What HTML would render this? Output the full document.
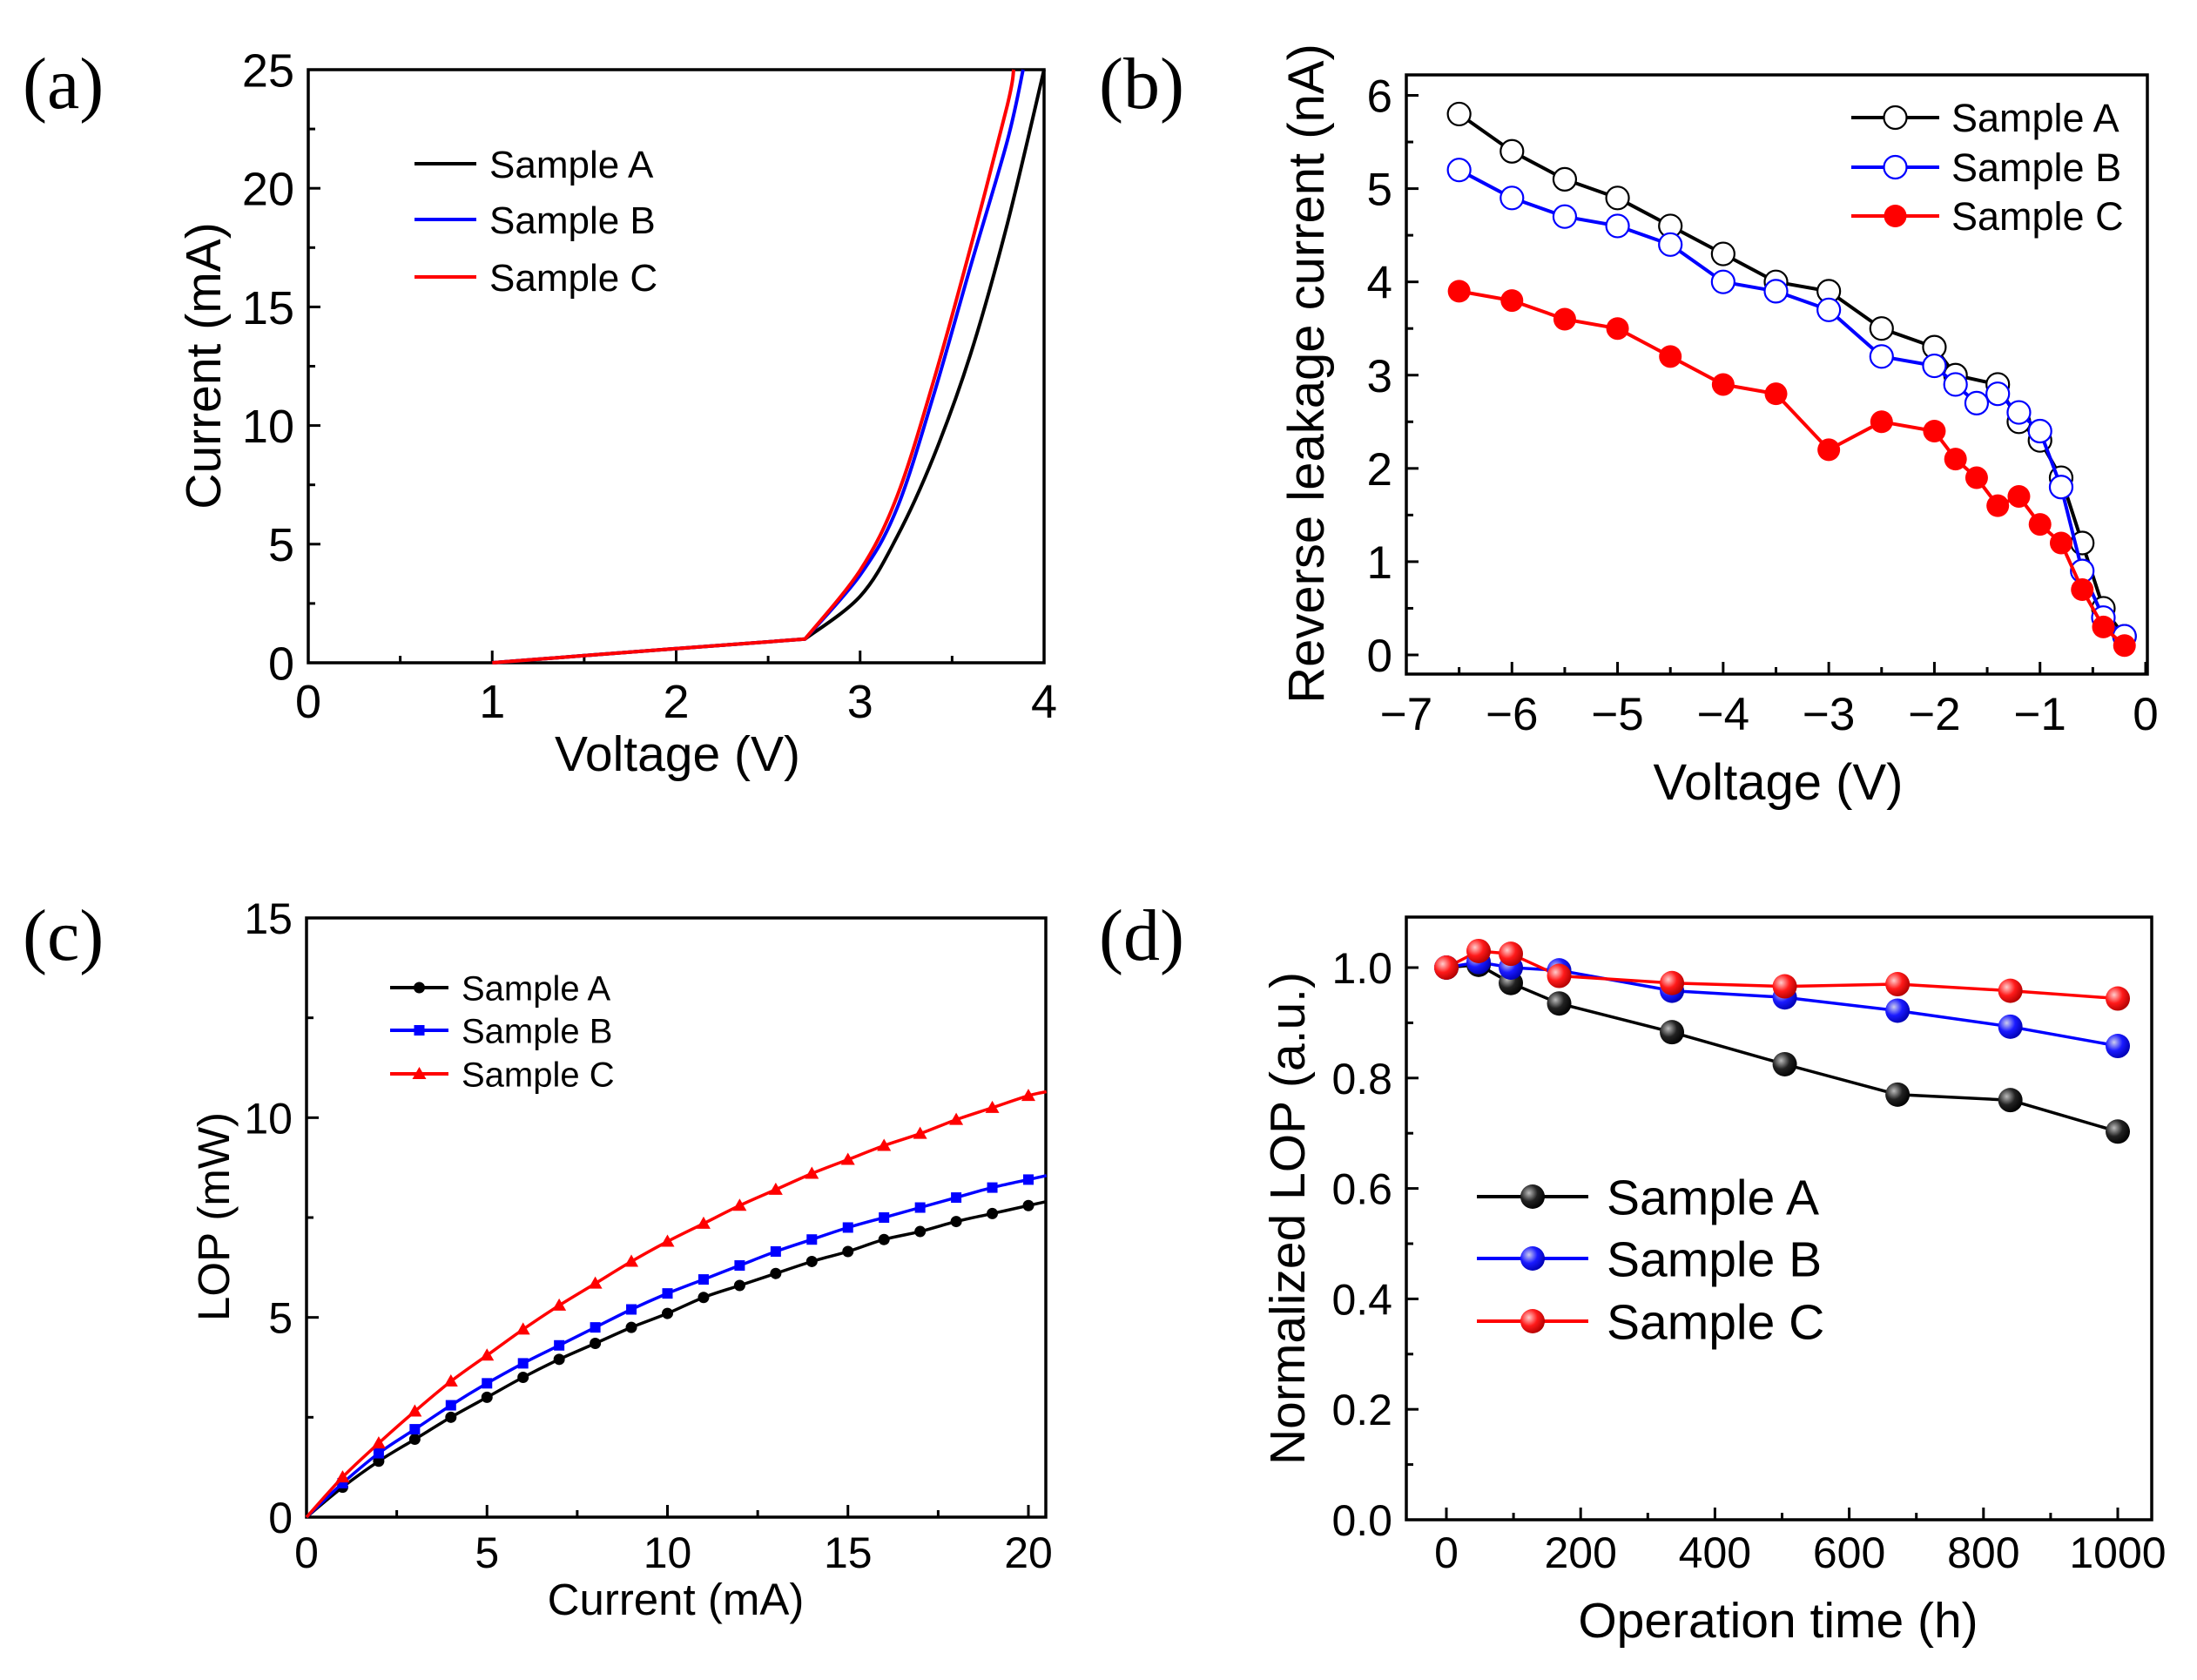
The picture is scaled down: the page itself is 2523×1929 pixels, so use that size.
<!DOCTYPE html>
<html><head><meta charset="utf-8"><style>
html,body{margin:0;padding:0;background:#fff}
svg{display:block;font-family:"Liberation Sans",Arial,sans-serif}
</style></head><body>
<svg id="fig" width="2523" height="1929" viewBox="0 0 2523 1929" xmlns="http://www.w3.org/2000/svg">
<defs>
<radialGradient id="gA" cx="0.35" cy="0.35" r="0.7"><stop offset="0" stop-color="#bbb"/><stop offset="0.5" stop-color="#222"/><stop offset="1" stop-color="#000"/></radialGradient>
<radialGradient id="gB" cx="0.35" cy="0.35" r="0.7"><stop offset="0" stop-color="#cce"/><stop offset="0.5" stop-color="#1a1aff"/><stop offset="1" stop-color="#0000b0"/></radialGradient>
<radialGradient id="gC" cx="0.35" cy="0.35" r="0.7"><stop offset="0" stop-color="#fcc"/><stop offset="0.5" stop-color="#ff1a1a"/><stop offset="1" stop-color="#b00000"/></radialGradient>
</defs>
</svg>
<script>
// ---- Panel (a) data: I-V ----
const aVoltA = [1.0,1.5,2.0,2.7,3.0,3.2,3.4,3.6,3.8,4.0];
const aCurA  = [0,0.3,0.6,1.0,2.8,5.3,8.7,13,18.5,25];
const aVoltB = [1.0,1.5,2.0,2.7,3.0,3.2,3.4,3.6,3.8,3.886];
const aCurB  = [0,0.3,0.6,1.0,3.7,6.5,11.3,16.7,22,25];
const aVoltC = [1.0,1.5,2.0,2.7,3.0,3.2,3.4,3.6,3.8,3.835];
const aCurC  = [0,0.3,0.6,1.0,3.9,7.0,11.9,17.5,23.5,25];
const aXTicks = [0,1,2,3,4];
const aYTicks = [0,5,10,15,20,25];
// ---- Panel (b) data: reverse leakage ----
const bVoltA = [-6.5,-6,-5.5,-5,-4.5,-4,-3.5,-3,-2.5,-2,-1.8,-1.4,-1.2,-1.0,-0.8,-0.6,-0.4,-0.2];
const bLeakA = [5.8,5.4,5.1,4.9,4.6,4.3,4.0,3.9,3.5,3.3,3.0,2.9,2.5,2.3,1.9,1.2,0.5,0.2];
const bVoltB = [-6.5,-6,-5.5,-5,-4.5,-4,-3.5,-3,-2.5,-2,-1.8,-1.6,-1.4,-1.2,-1.0,-0.8,-0.6,-0.4,-0.2];
const bLeakB = [5.2,4.9,4.7,4.6,4.4,4.0,3.9,3.7,3.2,3.1,2.9,2.7,2.8,2.6,2.4,1.8,0.9,0.4,0.2];
const bVoltC = [-6.5,-6,-5.5,-5,-4.5,-4,-3.5,-3,-2.5,-2,-1.8,-1.6,-1.4,-1.2,-1.0,-0.8,-0.6,-0.4,-0.2];
const bLeakC = [3.9,3.8,3.6,3.5,3.2,2.9,2.8,2.2,2.5,2.4,2.1,1.9,1.6,1.7,1.4,1.2,0.7,0.3,0.1];
const bXTicks = [-7,-6,-5,-4,-3,-2,-1,0];
const bYTicks = [0,1,2,3,4,5,6];
// ---- Panel (c) data: LOP vs current ----
const cCurrent = [0,1,2,3,4,5,6,7,8,9,10,11,12,13,14,15,16,17,18,19,20,20.5];
const cLopA = [0,0.75,1.4,1.95,2.5,3.0,3.5,3.95,4.35,4.75,5.1,5.5,5.8,6.1,6.4,6.65,6.95,7.15,7.4,7.6,7.8,7.9];
const cLopB = [0,0.85,1.6,2.2,2.8,3.35,3.85,4.3,4.75,5.2,5.6,5.95,6.3,6.65,6.95,7.25,7.5,7.75,8.0,8.25,8.45,8.55];
const cLopC = [0,1.0,1.85,2.65,3.4,4.05,4.7,5.3,5.85,6.4,6.9,7.35,7.8,8.2,8.6,8.95,9.3,9.6,9.95,10.25,10.55,10.65];
const cXTicks = [0,5,10,15,20];
const cYTicks = [0,5,10,15];
// ---- Panel (d) data: normalized LOP vs time ----
const dTime = [0,48,96,168,336,504,672,840,1000];
const dLopA = [1.0,1.005,0.972,0.935,0.883,0.825,0.77,0.76,0.703];
const dLopB = [1.0,1.01,1.0,0.995,0.958,0.946,0.922,0.893,0.858];
const dLopC = [1.0,1.03,1.025,0.985,0.972,0.966,0.97,0.958,0.944];
const dXTicks = [0,200,400,600,800,1000];
const dYTicks = [0,0.2,0.4,0.6,0.8,1.0];

const NS = "http://www.w3.org/2000/svg";
const svg = document.getElementById('fig');
function el(tag, attrs, parent){
  const e = document.createElementNS(NS, tag);
  for (const k in attrs) e.setAttribute(k, attrs[k]);
  (parent||svg).appendChild(e);
  return e;
}
function txt(s, x, y, size, anchor, parent, family){
  const t = el('text', {x:x, y:y, 'font-size':size, 'text-anchor':anchor||'start', fill:'#000'}, parent);
  if (family) t.setAttribute('font-family', family);
  t.textContent = s;
  return t;
}
function axes(o){
  const g = el('g', {});
  
  
  const sx = v => o.x0 + (v - o.xmin) / (o.xmax - o.xmin) * (o.x1 - o.x0);
  const sy = v => o.y0 - (v - o.ymin) / (o.ymax - o.ymin) * (o.y0 - o.y1);
  const bx0 = o.bx0 !== undefined ? o.bx0 : o.x0;
  const pl = txt(o.label, o.labX, o.labY, 84, 'start', g, '"Liberation Serif",serif');
  
  
  const tg = el('g', {stroke:'#000','stroke-width':3}, g);
  o.xTicks.forEach(v => {
    const x = sx(v);
    el('line', {x1:x, x2:x, y1:o.by, y2:o.by - 14}, tg);
    const t = txt(o.xFmt ? o.xFmt(v) : String(v), x, o.xLabY, o.tickSize, 'middle', g);
    
    
  });
  o.xMinor.forEach(v => { const x = sx(v); el('line', {x1:x, x2:x, y1:o.by, y2:o.by - 8}, tg); });
  o.yTicks.forEach(v => {
    const y = sy(v);
    el('line', {x1:bx0, x2:bx0 + 14, y1:y, y2:y}, tg);
    const t = txt(o.yFmt ? o.yFmt(v) : String(v), bx0 - 16, y + o.tickSize*0.36, o.tickSize, 'end', g);
    
    
  });
  o.yMinor.forEach(v => { const y = sy(v); el('line', {x1:bx0, x2:bx0 + 8, y1:y, y2:y}, tg); });
  const box = el('rect', {x:bx0, y:o.by0, width:o.bx1 - bx0, height:o.by - o.by0, fill:'none', stroke:'#000', 'stroke-width':3.5}, g);
  
  
  const xt = txt(o.xTitle, o.xTitleX, o.xTitleY, o.titleSize, 'middle', g);
  
  
  const yt = txt(o.yTitle, 0, 0, o.titleSize, 'middle', g);
  yt.setAttribute('transform', 'translate(' + o.yTitleX + ',' + o.yTitleY + ') rotate(-90)');
  
  
  return {g, sx, sy};
}
// knee: points with index <= knee joined by straight lines; curve starts fresh at knee
function series(ax, xs, ys, color, name, lw, smooth, knee){
  const P = xs.map((x,i) => [ax.sx(x), ax.sy(ys[i])]);
  const k = knee === undefined ? -1 : knee;
  let d = 'M' + P[0][0].toFixed(1) + ',' + P[0][1].toFixed(1);
  for (let i = 1; i < P.length; i++){
    if (smooth && i > k){
      const p1 = P[i-1], p2 = P[i];
      const p0 = (i-2 >= Math.max(0,k)) ? P[i-2] : p1;
      const p3 = P[Math.min(P.length-1,i+1)];
      const c1 = [p1[0] + (p2[0]-p0[0])/6, p1[1] + (p2[1]-p0[1])/6];
      const c2 = [p2[0] - (p3[0]-p1[0])/6, p2[1] - (p3[1]-p1[1])/6];
      d += ' C' + c1[0].toFixed(1)+','+c1[1].toFixed(1)+' '+c2[0].toFixed(1)+','+c2[1].toFixed(1)+' '+p2[0].toFixed(1)+','+p2[1].toFixed(1);
    } else d += ' L' + P[i][0].toFixed(1) + ',' + P[i][1].toFixed(1);
  }
  const p = el('path', {d:d, fill:'none', stroke:color, 'stroke-width':lw||4, 'stroke-linejoin':'round'}, ax.g);
  
  
  return p;
}
function marker(parent, type, x, y, color){
  let m;
  if (type === 'open') m = el('circle', {cx:x, cy:y, r:13, fill:'#fff', stroke:color, 'stroke-width':2.2}, parent);
  else if (type === 'filled') m = el('circle', {cx:x, cy:y, r:13, fill:color}, parent);
  else if (type === 'dot') m = el('circle', {cx:x, cy:y, r:6.5, fill:color}, parent);
  else if (type === 'square') m = el('rect', {x:x-6, y:y-6, width:12, height:12, fill:color}, parent);
  else if (type === 'tri') m = el('polygon', {points:(x)+','+(y-8)+' '+(x-8)+','+(y+6)+' '+(x+8)+','+(y+6), fill:color}, parent);
  else if (type === 'ball') m = el('circle', {cx:x, cy:y, r:14, fill:color}, parent);
  return m;
}
function markers(ax, xs, ys, type, color, name){
  const g = el('g', {}, ax.g);
  
  
  xs.forEach((x,i) => {
    const m = marker(g, type, ax.sx(x), ax.sy(ys[i]), color);
    
    
  });
}
function legend(ax, items, lx0, lx1, ys, tx, size){
  const g = el('g', {}, ax.g);
  
  
  items.forEach((it, i) => {
    const eg = el('g', {}, g);
    
    
    el('line', {x1:lx0, x2:lx1, y1:ys[i], y2:ys[i], stroke:it.line, 'stroke-width':4}, eg);
    if (it.type) marker(eg, it.type, (lx0+lx1)/2, ys[i], it.fill);
    txt(it.label, tx, ys[i] + size*0.36, size, 'start', eg);
  });
}
function range(a, b, s){ const r=[]; for (let v=a; v<=b+1e-9; v+=s) r.push(+v.toFixed(4)); return r; }

// Panel a
const A = axes({name:'panel-a-iv', label:'(a)', labX:26, labY:124,
  x0:354, x1:1199, xmin:0, xmax:4, y0:761, y1:80, ymin:0, ymax:25,
  bx1:1199, by0:80, by:761,
  xTicks:aXTicks, xMinor:range(0.5,3.5,1), yTicks:aYTicks, yMinor:range(2.5,22.5,5),
  xLabY:824, yFmt:null, tickSize:54, titleSize:57,
  xTitle:'Voltage (V)', xTitleX:778, xTitleY:885, yTitle:'Current (mA)', yTitleX:253, yTitleY:420});
series(A, aVoltA, aCurA, '#000', 'series-sample-a', 4, true, 3);
series(A, aVoltB, aCurB, '#0000ff', 'series-sample-b', 4, true, 3);
series(A, aVoltC, aCurC, '#ff0000', 'series-sample-c', 4, true, 3);
legend(A, [{label:'Sample A', line:'#000'},{label:'Sample B', line:'#0000ff'},{label:'Sample C', line:'#ff0000'}],
  476, 547, [188,252,318], 562, 44);

// Panel b
const minus = v => v < 0 ? '\u2212' + Math.abs(v) : String(v);
const B = axes({name:'panel-b-leakage', label:'(b)', labX:1262, labY:124,
  x0:1615, x1:2464, xmin:-7, xmax:0, y0:752, y1:109.5, ymin:0, ymax:6,
  bx1:2466, by0:86, by:774,
  xTicks:bXTicks, xMinor:range(-6.5,-0.5,1), yTicks:bYTicks, yMinor:range(0.5,5.5,1),
  xLabY:838, xFmt:minus, tickSize:53, titleSize:58,
  xTitle:'Voltage (V)', xTitleX:2042, xTitleY:918, yTitle:'Reverse leakage current (nA)', yTitleX:1520, yTitleY:429});
series(B, bVoltA, bLeakA, '#000', 'series-sample-a', 4);
markers(B, bVoltA, bLeakA, 'open', '#000', 'markers-sample-a');
series(B, bVoltB, bLeakB, '#0000ff', 'series-sample-b', 4);
markers(B, bVoltB, bLeakB, 'open', '#0000ff', 'markers-sample-b');
series(B, bVoltC, bLeakC, '#ff0000', 'series-sample-c', 4);
markers(B, bVoltC, bLeakC, 'filled', '#ff0000', 'markers-sample-c');
legend(B, [{label:'Sample A', line:'#000', type:'open', fill:'#000'},{label:'Sample B', line:'#0000ff', type:'open', fill:'#0000ff'},{label:'Sample C', line:'#ff0000', type:'filled', fill:'#ff0000'}],
  2126, 2227, [135,192,248], 2241, 45);

// Panel c
const C = axes({name:'panel-c-lop', label:'(c)', labX:26, labY:1102,
  x0:352, x1:1181, xmin:0, xmax:20, y0:1742, y1:1054, ymin:0, ymax:15,
  bx1:1201, by0:1054, by:1742,
  xTicks:cXTicks, xMinor:range(2.5,17.5,5), yTicks:cYTicks, yMinor:range(2.5,12.5,5),
  xLabY:1800, tickSize:50, titleSize:51,
  xTitle:'Current (mA)', xTitleX:776, xTitleY:1854, yTitle:'LOP (mW)', yTitleX:263, yTitleY:1397});
const cMk = cCurrent.slice(1, 21);
series(C, cCurrent, cLopA, '#000', 'series-sample-a', 3.5, true);
markers(C, cMk, cLopA.slice(1,21), 'dot', '#000', 'markers-sample-a');
series(C, cCurrent, cLopB, '#0000ff', 'series-sample-b', 3.5, true);
markers(C, cMk, cLopB.slice(1,21), 'square', '#0000ff', 'markers-sample-b');
series(C, cCurrent, cLopC, '#ff0000', 'series-sample-c', 3.5, true);
markers(C, cMk, cLopC.slice(1,21), 'tri', '#ff0000', 'markers-sample-c');
legend(C, [{label:'Sample A', line:'#000', type:'dot', fill:'#000'},{label:'Sample B', line:'#0000ff', type:'square', fill:'#0000ff'},{label:'Sample C', line:'#ff0000', type:'tri', fill:'#ff0000'}],
  448, 515, [1134,1183,1233], 530, 40);

// Panel d
const D = axes({name:'panel-d-aging', label:'(d)', labX:1262, labY:1102,
  x0:1661, x1:2432, xmin:0, xmax:1000, y0:1745, y1:1111, ymin:0, ymax:1.0,
  bx0:1615, bx1:2471, by0:1053, by:1745,
  xTicks:dXTicks, xMinor:range(100,900,200), yTicks:dYTicks, yMinor:range(0.1,0.9,0.2),
  xLabY:1800, yFmt:v => v.toFixed(1), tickSize:50, titleSize:57,
  xTitle:'Operation time (h)', xTitleX:2042, xTitleY:1880, yTitle:'Normalized LOP (a.u.)', yTitleX:1498, yTitleY:1399});
series(D, dTime, dLopA, '#000', 'series-sample-a', 3.5);
series(D, dTime, dLopB, '#0000ff', 'series-sample-b', 3.5);
series(D, dTime, dLopC, '#ff0000', 'series-sample-c', 3.5);
markers(D, dTime, dLopA, 'ball', 'url(#gA)', 'markers-sample-a');
markers(D, dTime, dLopB, 'ball', 'url(#gB)', 'markers-sample-b');
markers(D, dTime, dLopC, 'ball', 'url(#gC)', 'markers-sample-c');
legend(D, [{label:'Sample A', line:'#000', type:'ball', fill:'url(#gA)'},{label:'Sample B', line:'#0000ff', type:'ball', fill:'url(#gB)'},{label:'Sample C', line:'#ff0000', type:'ball', fill:'url(#gC)'}],
  1696, 1824, [1374,1445,1517], 1845, 57);
</script>
</body></html>
